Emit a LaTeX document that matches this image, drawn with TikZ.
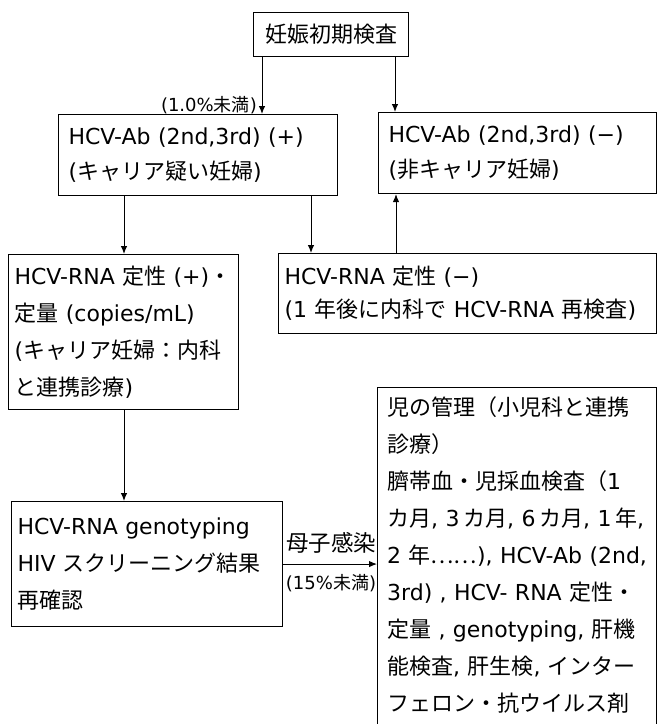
\documentclass[tikz,border=0pt]{standalone}
\usepackage{fontspec}
\setmainfont{Noto Sans CJK JP}
\newfontfamily\latfont{DejaVu Sans}
\newcommand\lat[1]{\mbox{\latfont #1}}
\usetikzlibrary{arrows.meta}
\begin{document}
\begin{tikzpicture}[x=1pt,y=-1pt,
  box/.style={draw, line width=1.1pt, anchor=north west, align=left, inner xsep=10pt, inner ysep=0pt, font=\fontsize{22}{37}\selectfont},
  arr/.style={line width=1pt, -{Latex[length=8pt,width=6.5pt]}},
  small/.style={font=\fontsize{18}{20}\selectfont, inner sep=0pt},
  mid/.style={font=\fontsize{22.5}{24}\selectfont, inner sep=0pt}]
\useasboundingbox (0,0) rectangle (657,724);
\clip (0,0) rectangle (657,724);
% boxes
\node[box, minimum width=155pt, minimum height=44pt, align=center] (top) at (253,12) {妊娠初期検査};
\node[box, minimum width=279pt, minimum height=81pt, text width=259pt, font=\fontsize{22}{35}\selectfont] (A) at (58,114)
  {\lat{HCV-Ab (2nd,3rd) (+)}\\\lat{(}キャリア疑い妊婦\lat{)}};
\node[box, minimum width=278pt, minimum height=81pt, text width=258pt, font=\fontsize{22}{35}\selectfont] (B) at (378,112)
  {\lat{HCV-Ab (2nd,3rd) (−)}\\\lat{(}非キャリア妊婦\lat{)}};
\node[box, minimum width=230pt, minimum height=155pt, text width=218pt, inner xsep=6pt] (C) at (8,254)
  {\lat{HCV-RNA}~定性~\lat{(+)}・\\定量~\lat{(copies/mL)}\\\lat{(}キャリア妊婦：内科\\と連携診療\lat{)}};
\node[box, minimum width=378pt, minimum height=80pt, text width=366pt, inner xsep=6pt, font=\fontsize{22}{33}\selectfont] (D) at (278,253)
  {\lat{HCV-RNA}~定性~\lat{(−)}\\\lat{(1}~年後に内科で~\lat{HCV-RNA}~再検査\lat{)}};
\node[box, minimum width=271pt, minimum height=125pt, text width=259pt, inner xsep=6pt] (F) at (11,501)
  {\lat{HCV-RNA genotyping}\\\lat{HIV}~スクリーニング結果\\再確認};
\node[box, minimum width=279pt, minimum height=353pt] (E) at (377,387) {};
\node[anchor=north west, align=left, inner xsep=10pt, inner ysep=0pt, text width=265pt, font=\fontsize{22}{37}\selectfont] (Et) at (377,396)
  {児の管理（小児科と連携\\診療）\\臍帯血・児採血検査（\lat{1}\\カ月\lat{, 3}\,カ月\lat{, 6}\,カ月\lat{, 1}\,年\lat{,}\\\lat{2}~年……\lat{), HCV-Ab (2nd,}\\\lat{3rd) , HCV- RNA}~定性・\\定量~\lat{, genotyping,}~肝機\\能検査\lat{,}~肝生検\lat{,}~インター\\フェロン・抗ウイルス剤};
% labels
\node[small, anchor=east] (l1) at (257,105) {\lat{(1.0\%}未満\lat{)}};
\node[mid] (l2) at (331,543) {母子感染};
\node[small] (l3) at (331,583) {\lat{(15\%}未満\lat{)}};
% columns
\coordinate (cA) at (262,0);
\coordinate (cB) at (395,0);
\coordinate (cC) at (124,0);
\coordinate (cD) at (311,0);
\coordinate (cU) at (396,0);
\draw[arr] (cA |- top.south) -- (cA |- A.north);
\draw[arr] (cB |- top.south) -- (cB |- B.north);
\draw[arr] (cC |- A.south) -- (cC |- C.north);
\draw[arr] (cD |- A.south) -- (cD |- D.north);
\draw[arr] (cU |- D.north) -- (cU |- B.south);
\draw[arr] (cC |- C.south) -- (cC |- F.north);
\draw[arr] (F.east) -- (F.east -| E.west);
\end{tikzpicture}
\end{document}
